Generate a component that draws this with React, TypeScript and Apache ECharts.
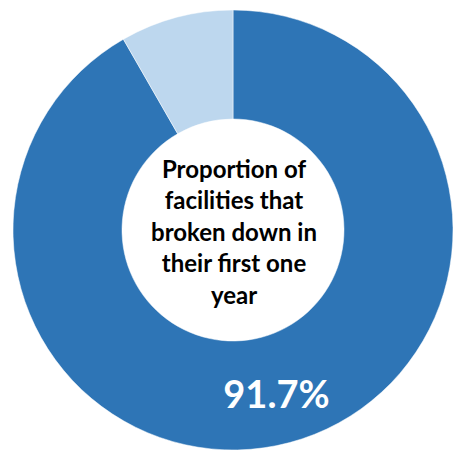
import React, { useEffect, useRef } from "react";
import * as echarts from "echarts";

const categories = ["Broken down in first year", "Not broken down"];
const values = [91.7, 8.3];
const colors = ["#2E75B6", "#BDD7EE"];
const centerText = ["Proportion of", "facilities that", "broken down in", "their first one", "year"];

export default function App() {
  const ref = useRef<HTMLDivElement>(null);
  useEffect(() => {
    if (!ref.current) return;
    const chart = echarts.init(ref.current, null, { renderer: "svg" });
    chart.setOption({
      animation: false,
      backgroundColor: "#ffffff",
      series: [
        {
          type: "pie",
          center: [233, 230],
          radius: [111, 220],
          startAngle: 90,
          clockwise: true,
          silent: true,
          itemStyle: { borderColor: "#ffffff", borderWidth: 0.5 },
          label: {
            show: true,
            position: "inside",
            color: "#ffffff",
            fontFamily: "Lato",
            fontWeight: "bold",
            fontSize: 38,
            formatter: (p: any) => (p.dataIndex === 0 ? p.value + "%" : ""),
          },
          labelLine: { show: false },
          data: categories.map((name, i) => ({
            name,
            value: values[i],
            itemStyle: { color: colors[i] },
            label: { show: i === 0 },
          })),
        },
      ],
      graphic: [
        {
          type: "text",
          x: 234,
          y: 231,
          style: {
            text: centerText.join("\n"),
            fill: "#000000",
            font: "bold 24px Lato",
            lineHeight: 31.5,
            align: "center",
            verticalAlign: "middle",
          },
        },
      ],
    });
    return () => chart.dispose();
  }, []);
  return (
    <div
      ref={ref}
      style={{ position: "fixed", left: 0, top: 0, width: 453, height: 454 }}
    />
  );
}
